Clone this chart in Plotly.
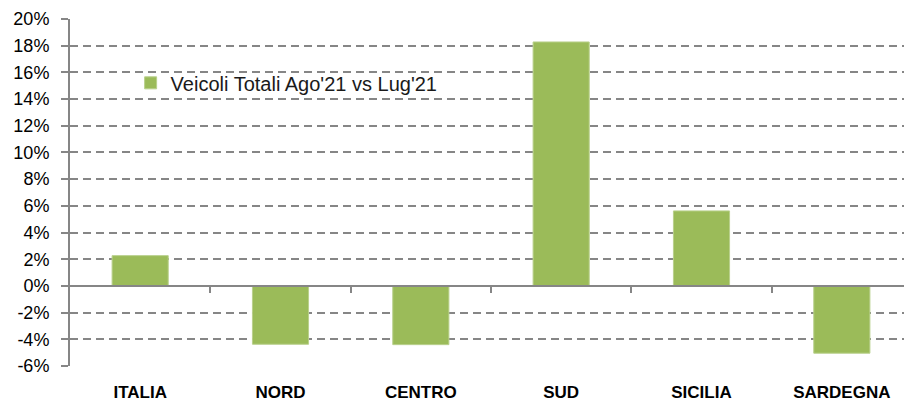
import plotly.graph_objects as go

categories = ["ITALIA", "NORD", "CENTRO", "SUD", "SICILIA", "SARDEGNA"]
values = [2.27, -4.37, -4.4, 18.28, 5.62, -5.04]  # percent
series_name = "Veicoli Totali Ago'21 vs Lug'21"
y_ticks = list(range(-6, 21, 2))
y_tick_labels = [f"{v}%" for v in y_ticks]

Y_MIN, Y_MAX = -6, 20
GREEN = "#9BBB59"
GREY = "#868686"
FONT = "Liberation Sans"

fig = go.Figure()
fig.add_trace(go.Bar(
    x=categories, y=values, name=series_name,
    marker=dict(color=GREEN, line=dict(color="#B9D08C", width=1)),
    showlegend=True,
))
# helper trace on secondary x-axis to draw the category-boundary ticks on the zero line
fig.add_trace(go.Scatter(x=[None], y=[None], xaxis="x2", showlegend=False, hoverinfo="skip"))

zero_pos = (0 - Y_MIN) / (Y_MAX - Y_MIN)

fig.update_layout(
    width=904, height=394,
    margin=dict(l=62, r=0, t=11, b=36, autoexpand=False),
    paper_bgcolor="white", plot_bgcolor="white",
    bargap=0.6,
    font=dict(family=FONT, color="#000000"),
    showlegend=True,
    legend=dict(
        x=0.072, y=0.816, xanchor="left", yanchor="middle",
        bgcolor="rgba(0,0,0,0)", font=dict(size=20, family=FONT, color="#1a1a1a"),
        itemwidth=30,
    ),
    xaxis=dict(
        type="category", range=[-0.5, 5.5], automargin=False,
        showgrid=False, showline=False, zeroline=False, ticks="",
        ticklabelstandoff=14,
        tickfont=dict(size=17, family=FONT, color="#000000", weight="bold"),
    ),
    xaxis2=dict(
        overlaying="x", anchor="free", position=zero_pos,
        range=[-0.5, 5.5], tickvals=[0.5, 1.5, 2.5, 3.5, 4.5],
        showticklabels=False, ticks="outside", ticklen=6, tickwidth=2, tickcolor=GREY,
        showline=True, linecolor=GREY, linewidth=2,
        showgrid=False, zeroline=False, side="bottom", automargin=False,
    ),
    yaxis=dict(
        range=[Y_MIN, Y_MAX], tickvals=y_ticks, ticktext=y_tick_labels,
        showgrid=True, gridcolor=GREY, gridwidth=2, griddash="8px,5px",
        showline=True, linecolor=GREY, linewidth=2,
        ticks="outside", ticklen=7, tickwidth=2, tickcolor=GREY,
        ticklabelstandoff=8,
        zeroline=False, automargin=False,
        tickfont=dict(size=18, family=FONT, color="#000000"),
    ),
)

fig.write_html("out.html")
